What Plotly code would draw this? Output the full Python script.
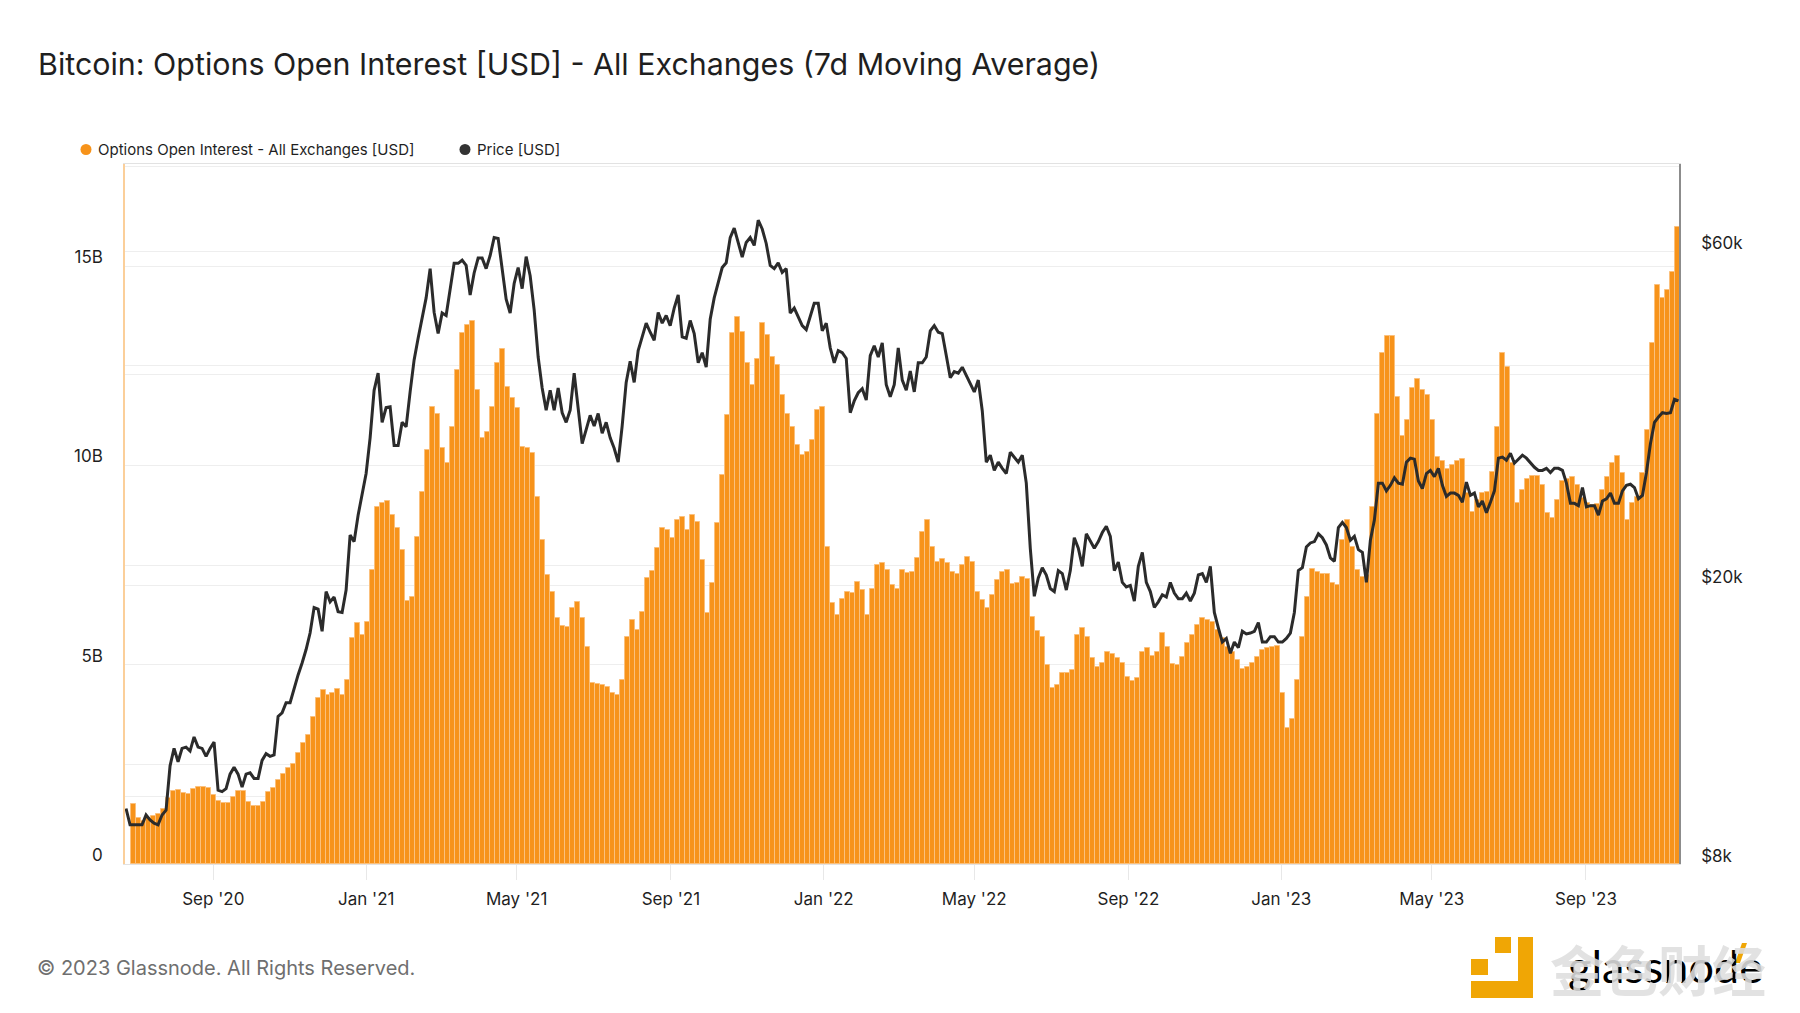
import pandas as pd
import plotly.graph_objects as go

TITLE = "Bitcoin: Options Open Interest [USD] - All Exchanges (7d Moving Average)"
SERIES_OI = "Options Open Interest - All Exchanges [USD]"
SERIES_PRICE = "Price [USD]"
FOOTER = "© 2023 Glassnode. All Rights Reserved."

# Options open interest, billions of USD
oi_billions = [
    1.50,1.15,1.09,1.15,1.20,1.25,1.37,1.65,1.84,1.86,
    1.77,1.76,1.87,1.92,1.94,1.90,1.73,1.59,1.54,1.54,
    1.67,1.84,1.84,1.56,1.46,1.46,1.56,1.81,1.90,2.11,
    2.27,2.40,2.52,2.78,3.03,3.24,3.70,4.16,4.36,4.24,
    4.28,4.38,4.24,4.62,5.66,6.04,5.74,6.08,7.37,8.96,
    9.05,9.10,8.75,8.42,7.88,6.60,6.70,8.21,9.34,10.38,
    11.47,11.30,10.43,10.05,10.97,12.39,13.31,13.52,13.63,11.89,
    10.68,10.84,11.47,12.56,12.93,11.97,11.68,11.43,10.47,10.43,
    10.30,9.21,8.13,7.25,6.83,6.16,5.97,5.95,6.41,6.58,
    6.16,5.45,4.53,4.51,4.49,4.43,4.30,4.24,4.62,5.70,
    6.12,5.87,6.33,7.17,7.36,7.92,8.42,8.38,8.17,8.63,
    8.71,8.39,8.75,8.59,7.63,6.29,7.04,8.55,9.76,11.26,
    13.31,13.73,13.35,12.56,12.02,12.68,13.56,13.27,12.73,12.52,
    11.76,11.30,10.97,10.51,10.26,10.34,10.64,11.39,11.47,7.96,
    6.54,6.25,6.66,6.83,6.81,7.08,6.87,6.25,6.91,7.50,
    7.56,7.37,7.00,6.91,7.37,7.29,7.33,7.67,8.34,8.63,
    7.96,7.58,7.64,7.54,7.33,7.27,7.50,7.71,7.58,6.83,
    6.62,6.41,6.75,7.12,7.33,7.37,7.02,7.04,7.19,7.14,
    6.20,5.85,5.70,4.99,4.41,4.49,4.78,4.80,4.87,5.74,
    5.91,5.70,5.16,4.93,5.03,5.33,5.27,5.16,5.03,4.70,
    4.60,4.66,5.33,5.43,5.23,5.33,5.79,5.45,5.01,4.99,
    5.20,5.54,5.74,6.00,6.18,6.12,6.08,5.87,5.66,5.45,
    5.33,5.12,4.88,4.95,5.05,5.20,5.38,5.41,5.45,5.47,
    4.28,3.40,3.63,4.62,5.70,6.71,7.39,7.33,7.27,7.27,
    7.04,7.00,8.13,8.63,7.96,7.37,7.21,7.25,8.96,11.30,
    12.81,13.25,13.24,11.72,10.74,11.14,11.93,12.16,11.89,11.76,
    11.14,10.20,10.12,9.90,10.01,10.12,10.15,9.30,8.84,9.13,
    9.30,9.34,9.84,10.97,12.81,12.47,10.05,9.06,9.38,9.67,
    9.74,9.74,9.51,8.80,8.67,9.13,9.62,9.67,9.72,9.51,
    9.17,9.05,9.00,9.03,9.38,9.72,10.05,10.23,9.80,8.63,
    9.05,9.21,9.80,10.89,13.06,14.52,14.19,14.40,14.86,15.99,
]

# BTC price, thousands of USD
price_k = [
    9.6,9.1,9.1,9.1,9.1,9.4,9.25,9.15,9.1,9.4,
    9.55,11.05,11.7,11.2,11.7,11.75,11.6,12.15,11.75,11.7,
    11.4,11.7,11.95,10.2,10.15,10.25,10.75,11.0,10.75,10.3,
    10.75,10.8,10.6,10.6,11.25,11.5,11.4,11.45,13.0,13.15,
    13.6,13.6,14.3,14.9,15.5,16.2,17.1,18.6,18.5,17.2,
    19.6,18.95,19.25,18.35,18.3,19.7,23.6,23.1,25.2,27.1,
    28.9,32.5,38.0,40.2,34.2,35.9,36.0,31.7,31.7,34.2,
    33.7,37.8,42.0,45.1,48.3,51.5,56.7,49.1,45.8,49.0,
    48.6,52.8,57.7,57.7,58.3,57.3,52.0,55.9,58.7,58.7,
    56.7,59.2,62.8,62.6,56.1,51.3,49.0,54.0,56.9,53.1,
    59.0,55.4,49.5,42.4,38.3,35.6,38.0,35.6,38.3,35.3,
    34.2,35.6,40.2,35.6,31.9,33.4,35.0,33.8,35.2,33.0,
    34.2,32.5,31.4,30.0,33.8,39.0,41.8,39.0,43.3,45.3,
    47.4,46.0,44.8,49.1,47.4,48.6,47.0,49.8,52.0,45.3,
    45.1,47.8,45.8,41.6,43.0,41.0,48.0,51.5,54.0,56.9,
    57.8,62.8,64.8,61.8,58.9,61.8,62.8,61.2,66.5,64.6,
    61.6,57.3,56.7,57.8,56.0,56.7,49.0,49.8,48.3,47.0,
    46.4,48.6,50.6,50.6,46.2,47.4,43.7,41.6,43.3,43.0,
    42.2,35.3,36.7,37.7,38.2,36.8,42.6,44.0,42.4,44.4,
    38.7,37.2,38.7,43.7,39.3,38.0,40.5,37.8,41.6,41.6,
    42.4,46.2,47.0,46.0,45.8,42.6,39.6,40.4,40.2,41.0,
    39.9,38.7,37.8,39.3,35.5,30.0,30.7,29.2,30.0,29.4,
    28.9,31.0,30.5,30.0,30.7,28.0,22.6,19.3,20.5,21.2,
    20.7,19.8,19.6,21.0,20.8,19.7,21.0,23.4,22.6,21.3,
    23.7,23.1,22.6,23.1,23.8,24.3,23.5,21.0,21.6,20.2,
    19.9,20.0,19.0,21.3,22.3,20.2,19.6,18.6,18.95,19.4,
    19.25,20.2,19.5,19.15,19.15,19.5,19.0,19.5,20.7,20.8,
    20.2,21.3,18.3,17.4,16.6,16.8,16.0,16.6,16.3,17.2,
    17.05,17.1,17.2,17.7,16.6,16.6,16.9,16.9,16.6,16.6,
    16.8,17.1,18.3,21.0,21.2,22.7,23.0,23.1,23.7,23.4,
    22.85,21.9,21.65,24.2,24.6,24.2,23.2,23.5,22.5,22.3,
    20.2,23.2,24.8,28.0,28.0,27.3,27.8,28.5,28.0,27.9,
    30.0,30.4,30.3,28.2,27.5,28.9,29.2,28.6,29.4,27.8,
    26.8,27.1,27.1,26.9,26.3,28.1,26.9,27.1,25.9,26.4,
    25.4,26.3,27.3,30.4,30.5,30.2,30.9,29.9,30.3,30.7,
    30.4,29.9,29.5,29.2,29.2,29.4,29.0,29.4,29.4,29.2,
    28.0,26.2,26.2,26.0,27.6,25.9,26.0,26.0,25.2,26.4,
    26.6,27.1,26.2,26.2,27.3,27.8,27.9,27.6,26.6,26.9,
    29.0,31.9,34.2,34.8,35.3,35.2,35.3,36.9,36.7,
]

oi_dates = pd.date_range("2020-06-29", periods=len(oi_billions), freq="5742min")
price_dates = pd.date_range("2020-06-23 10:00", periods=len(price_k), freq="4596min")

x_tick_dates = ["2020-09-01","2021-01-01","2021-05-01","2021-09-01","2022-01-01","2022-05-01",
                "2022-09-01","2023-01-01","2023-05-01","2023-09-01"]
x_tick_labels = ["Sep '20","Jan '21","May '21","Sep '21","Jan '22","May '22",
                 "Sep '22","Jan '23","May '23","Sep '23"]
left_ticks = [0, 2.5e9, 5e9, 7.5e9, 10e9, 12.5e9, 15e9, 17.5e9]
left_labels = ["0", "", "5B", "", "10B", "", "15B", ""]
right_ticks = [8000, 10000, 20000, 40000, 60000]
right_labels = ["$8k", "", "$20k", "", "$60k"]

ORANGE = "#f7931a"
STRIPE = "#fbc07c"
DARK = "#2b2b2b"
GRID = "#eeeeee"
FONT = "Inter, sans-serif"
W, H = 1800, 1013
L, R, T, B = 125, 1679, 164, 864

fig = go.Figure()
fig.add_trace(go.Bar(
    x=oi_dates, y=[v * 1e9 for v in oi_billions], name=SERIES_OI,
    width=5742 * 60000,
    marker=dict(color=ORANGE, line=dict(width=1, color=STRIPE)), yaxis="y",
))
fig.add_trace(go.Scatter(
    x=price_dates, y=[v * 1000 for v in price_k], name=SERIES_PRICE, mode="lines",
    line=dict(color=DARK, width=3), yaxis="y2",
))


def px(x):
    return (x - L) / (R - L)


def py(y):
    return (B - y) / (B - T)


def note(x, y, text, size, color="#1f1f1f", xanchor="left", family=FONT, **kw):
    fig.add_annotation(x=px(x), y=py(y), xref="paper", yref="paper", text=text, showarrow=False,
                       xanchor=xanchor, yanchor="middle", align="left", xshift=0, yshift=0,
                       font=dict(family=family, size=size, color=color), **kw)


def dot(cx, cy, r, color):
    fig.add_shape(type="circle", xref="paper", yref="paper", x0=px(cx - r), x1=px(cx + r),
                  y0=py(cy + r), y1=py(cy - r), fillcolor=color, line_width=0)


def poly(points, color):
    path = "M " + " L ".join(f"{px(a):.5f},{py(b):.5f}" for a, b in points) + " Z"
    fig.add_shape(type="path", xref="paper", yref="paper", path=path, fillcolor=color, line_width=0)


note(35.5, 64, TITLE, 30.4)
dot(86, 149.5, 5.5, ORANGE)
note(95.5, 149, SERIES_OI, 15)
dot(465, 149.5, 5.5, "#333333")
note(474.5, 149, SERIES_PRICE, 15)
note(35, 968, FOOTER, 20, color="#6f6f6f")

# Glassnode mark with the gold square logo and grey stamp lying over it
note(1566, 966, "glassnode", 45, color="#000000", family="Lato, sans-serif")
poly([(1735, 963), (1742, 943), (1747, 943), (1740, 963)], "#f0a605")
poly([(1518, 937), (1533, 937), (1533, 998), (1471, 998), (1471, 981), (1518, 981)], "#f0a605")
poly([(1495, 937), (1511, 937), (1511, 953), (1495, 953)], "#f0a605")
poly([(1471, 959), (1488, 959), (1488, 975), (1471, 975)], "#f0a605")
note(1548, 969, "<b>金色财经</b>", 54, color="rgba(222,222,222,0.88)", family="Noto Sans CJK SC")

fig.update_layout(
    width=W, height=H, autosize=False, showlegend=False, bargap=0,
    paper_bgcolor="white", plot_bgcolor="white", font=dict(family=FONT, color="#1f1f1f"),
    margin=dict(l=L, r=W - R, t=T, b=H - B, pad=0),
    xaxis=dict(
        type="date", range=["2020-06-22 14:00", "2023-11-14 05:00"], tickmode="array",
        tickvals=x_tick_dates, ticktext=x_tick_labels, ticks="outside", ticklen=15,
        tickcolor="#e8e8e8", tickwidth=1, showgrid=False, showline=True, linecolor="#e2e2e2",
        linewidth=1, tickfont=dict(size=17, color="#1f1f1f"), zeroline=False, mirror=True,
        ticklabelstandoff=5,
    ),
    yaxis=dict(
        range=[0, 17.56e9], tickmode="array", tickvals=left_ticks, ticktext=left_labels,
        showgrid=True, gridcolor=GRID, gridwidth=1, zeroline=False, showline=True,
        linecolor="#fbcf9a", linewidth=1.5, ticks="", tickfont=dict(size=17, color="#1f1f1f"),
        ticklabelstandoff=17, ticklabelshift=-9,
    ),
    yaxis2=dict(
        type="log", range=[3.90309, 4.90309], overlaying="y", side="right", tickmode="array",
        tickvals=right_ticks, ticktext=right_labels, showgrid=True, gridcolor=GRID, gridwidth=1,
        zeroline=False, showline=True, linecolor="#8c8c8c", linewidth=1.5, ticks="",
        tickfont=dict(size=17, color="#1f1f1f"), ticklabelstandoff=17, ticklabelshift=-8,
    ),
)

fig.write_html("out.html", post_script="document.body.style.margin='0';",
               config={"displayModeBar": False, "responsive": False})
